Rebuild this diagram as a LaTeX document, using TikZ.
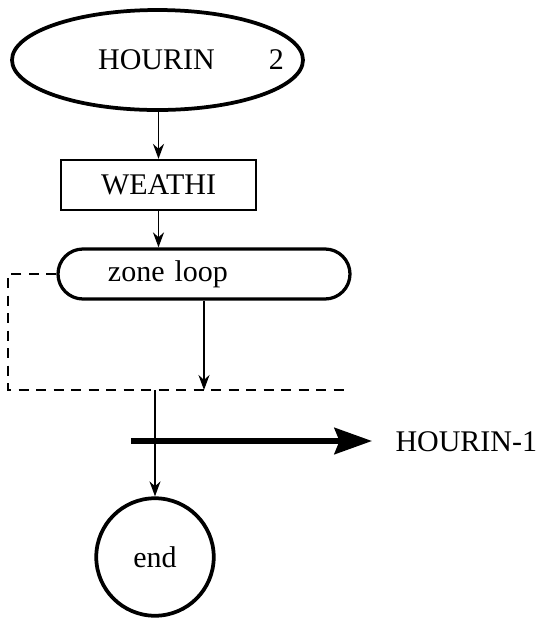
\documentclass[tikz,border=0pt]{standalone}
\usepackage{fontspec}
\setmainfont{Liberation Serif}
\usetikzlibrary{arrows.meta,positioning,shapes.geometric}
\tikzset{
  term/.style={ellipse,draw,line width=1.5pt,inner sep=0pt,
               minimum width=116.4pt,minimum height=40pt},
  proc/.style={rectangle,draw,line width=.9pt,inner sep=0pt,
               minimum width=78pt,minimum height=20pt},
  loopbox/.style={rectangle,draw,line width=1.3pt,rounded corners=10pt,
               inner xsep=20pt,inner ysep=0pt,text width=76.8pt,align=left,
               minimum height=20pt},
  endpt/.style={circle,draw,line width=1.5pt,inner sep=0pt,minimum size=47pt},
  txt/.style={inner sep=0pt},
  flow/.style={-{Stealth[length=6pt,width=4.4pt]},line width=.7pt},
  backloop/.style={dash pattern=on 4pt off 3pt,line width=1pt},
  bigflow/.style={-{Stealth[length=15pt,width=10.5pt,inset=2pt]},line width=2.2pt},
}

\begin{document}
\begin{tikzpicture}[x=0.4pt,y=-0.4pt,font=\fontsize{12}{14}\selectfont]
  \useasboundingbox (0,0) rectangle (544,622);
  \node[term]    (start)  at (157.5,60) {};
  \node[txt]     (startlbl) at (191,60) {HOURIN\hspace{21.6pt}2};
  \node[proc]    (weathi) at (158.5,185) {WEATHI};
  \node[loopbox] (zone)   at (204,274) {zone loop};
  \node[endpt]   (end)    at (155,557) {end};
  \coordinate (lpa) at (8,274);
  \coordinate (lpb) at (8,390);
  \coordinate (lpc) at (347,390);
  \coordinate (join) at (155,390);
  \coordinate (hstart) at (131,441);
  \node[txt,anchor=west] (hrtn) at (395,442) {HOURIN-1};
  \draw[flow] (start.south -| weathi) -- (weathi.north);
  \draw[flow] (weathi.south) -- (weathi.south |- zone.north);
  \draw[backloop] (zone.west) -- (lpa) -- (lpb) -- (lpc);
  \draw[flow] (zone.south) -- (zone.south |- lpb);
  \draw[flow] (join) -- (end.north);
  \draw[bigflow,shorten >=9.2pt] (hstart) -- (hrtn.west |- hstart);
\end{tikzpicture}
\end{document}
